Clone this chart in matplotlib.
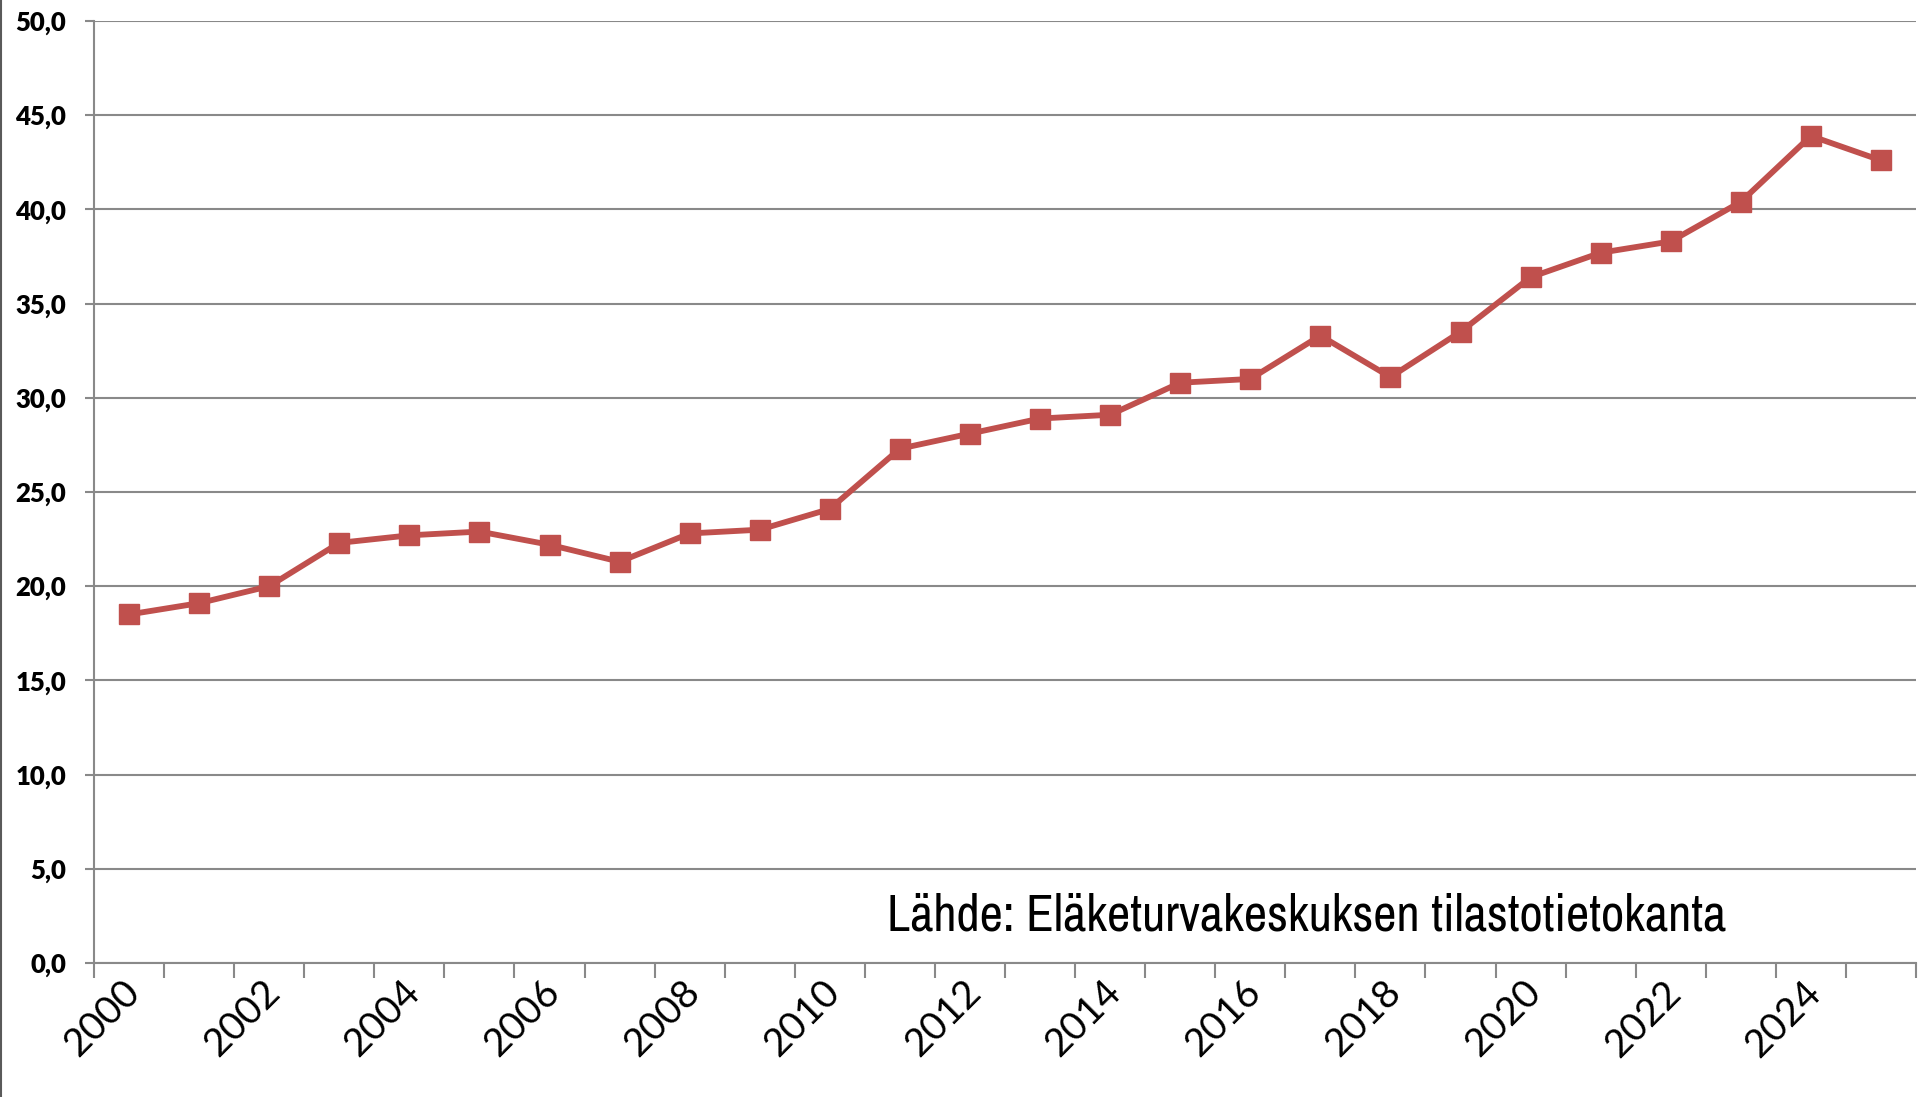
import matplotlib
matplotlib.use("Agg")
import matplotlib.pyplot as plt
from matplotlib.lines import Line2D
import matplotlib.transforms as mtransforms
from matplotlib import font_manager

years = list(range(2000, 2026))
values = [18.5, 19.1, 20.0, 22.3, 22.7, 22.9, 22.2, 21.3, 22.8, 23.0, 24.1,
          27.3, 28.1, 28.9, 29.1, 30.8, 31.0, 33.3, 31.1, 33.5, 36.4, 37.7,
          38.3, 40.4, 43.9, 42.6]
y_ticks = [0, 5, 10, 15, 20, 25, 30, 35, 40, 45, 50]
y_tick_labels = ["0,0", "5,0", "10,0", "15,0", "20,0", "25,0", "30,0",
                 "35,0", "40,0", "45,0", "50,0"]
x_label_years = years[::2]
source_text = "Lähde: Eläketurvakeskuksen tilastotietokanta"

# find an upright, regular-weight narrow font if one is installed
narrow = None
for f in font_manager.fontManager.ttflist:
    n = f.name
    if (("Narrow" in n or "Condensed" in n) and "Mono" not in n
            and f.style == "normal" and f.weight in (400, "normal", "regular")
            and "Italic" not in f.fname and "Bold" not in f.fname):
        narrow = f
        break
if narrow is not None:
    src_props = dict(fontproperties=font_manager.FontProperties(fname=narrow.fname))
else:
    src_props = dict(family="DejaVu Sans", fontstretch="condensed")

W, H = 1919, 1097
fig = plt.figure(figsize=(W / 100, H / 100), dpi=100)
fig.patch.set_facecolor("white")
ax = fig.add_axes([94 / W, 1 - 963 / H, (1916 - 94) / W, (963 - 21) / H])

grid_c = "#898989"
xs = list(range(len(years)))
ax.plot(xs, values, color="#C0504D", linewidth=4.2, marker="s",
        markersize=14, markerfacecolor="#C0504D", markeredgecolor="#C0504D",
        zorder=3, solid_joinstyle="round")

ax.set_xlim(-0.5, len(years) - 0.5)
ax.set_ylim(0, 50)
ax.set_yticks(y_ticks)
ax.set_yticklabels(y_tick_labels, fontfamily="Lato", fontweight="heavy",
                   fontsize=18.5)
ax.grid(axis="y", color=grid_c, linewidth=1.5, zorder=1)
ax.set_axisbelow(True)

for s in ["top", "right"]:
    ax.spines[s].set_visible(False)
for s in ["left", "bottom"]:
    ax.spines[s].set_color(grid_c)
    ax.spines[s].set_linewidth(1.5)

ax.tick_params(axis="y", length=6.5, width=1.5, color=grid_c, pad=13.5)

# category boundaries as major ticks
ax.set_xticks([i - 0.5 for i in range(len(years) + 1)])
ax.set_xticklabels([])
ax.tick_params(axis="x", which="major", length=11, width=1.5, color=grid_c)

# year labels
ax.set_xticks([years.index(y) for y in x_label_years], minor=True)
ax.set_xticklabels([str(y) for y in x_label_years], minor=True,
                   fontfamily="Lato", fontsize=28, rotation=45,
                   ha="right", va="top", rotation_mode="anchor")
ax.tick_params(axis="x", which="minor", length=0, pad=8)
offset = mtransforms.ScaledTranslation(-8 / 100, 0, fig.dpi_scale_trans)
for lbl in ax.get_xticklabels(minor=True):
    lbl.set_transform(lbl.get_transform() + offset)

# source text, fit to width
t = ax.text(10.82, 1.75, source_text, fontsize=29, ha="left", va="baseline",
            color="black", zorder=4, **src_props)
fig.canvas.draw()
bb = t.get_window_extent(renderer=fig.canvas.get_renderer())
fs = 29 * 840 / bb.width
t.set_fontsize(min(max(fs, 20), 42))

# left border of chart area
fig.add_artist(Line2D([1 / W, 1 / W], [0, 1], transform=fig.transFigure,
                      color="#5a5a5a", linewidth=1.5))

fig.savefig("out.png", dpi=100, facecolor="white")
